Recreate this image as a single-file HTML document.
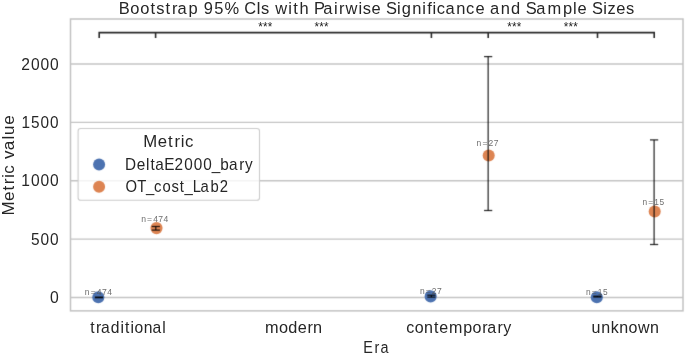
<!DOCTYPE html>
<html><head><meta charset="utf-8">
<style>
html,body{margin:0;padding:0;background:#fff;width:685px;height:354px;overflow:hidden}
svg{display:block;will-change:transform}
text{font-family:"Liberation Sans",sans-serif;fill:#262626;font-variant-ligatures:none;font-kerning:none}
.n{fill:#555;fill-opacity:0.85}
</style></head>
<body>
<svg width="685" height="354" viewBox="0 0 685 354">
<defs><filter id="bl" x="0" y="0" width="685" height="354" filterUnits="userSpaceOnUse" color-interpolation-filters="sRGB"><feConvolveMatrix order="3" kernelMatrix="0.01 0.08 0.01 0.08 0.64 0.08 0.01 0.08 0.01" divisor="1" edgeMode="none"/></filter></defs>
<rect x="0" y="0" width="685" height="354" fill="#fff"/>
<g filter="url(#bl)">
<!-- grid -->
<g stroke="#c4c4c4" stroke-width="1.3">
<line x1="70.5" y1="297.5" x2="683" y2="297.5"/>
<line x1="70.5" y1="239.1" x2="683" y2="239.1"/>
<line x1="70.5" y1="180.75" x2="683" y2="180.75"/>
<line x1="70.5" y1="122.4" x2="683" y2="122.4"/>
<line x1="70.5" y1="64.0" x2="683" y2="64.0"/>
</g>
<!-- frame -->
<rect x="70.5" y="19" width="612.5" height="291.85" fill="none" stroke="#c2c2c2" stroke-width="1.5"/>
</g>
<!-- title -->
<text style="font-size:17.15px" transform="scale(0.9610,1)" x="123.47 135.46 145.84 156.70 162.71 172.20 178.93 184.74 196.06 206.42 212.07 222.86 233.53 249.54 254.26 266.59 271.72 280.63 286.45 300.05 305.21 311.58 322.03 326.80 336.39 347.45 352.68 359.42 373.02 377.53 386.61 396.88 401.72 413.19 417.95 428.87 439.44 444.52 450.13 454.56 463.52 474.76 485.05 494.69 504.96 509.85 521.09 531.70 542.29 547.12 557.94 569.71 585.80 596.30 601.05 611.32 616.16 627.63 632.13 641.28 651.49" y="13.6">Bootstrap 95% CIs with Pairwise Significance and Sample Sizes</text>
<!-- y ticks -->
<text style="font-size:15.97px" transform="scale(0.9868,1)" x="50.57" y="303.1">0</text>
<text style="font-size:15.95px" transform="scale(0.9692,1)" x="31.88 41.76 51.57" y="244.7">500</text>
<text style="font-size:15.94px" transform="scale(0.9776,1)" x="21.83 31.63 41.36 51.09" y="186.35">1000</text>
<text style="font-size:15.93px" transform="scale(0.9644,1)" x="22.19 32.07 41.99 51.86" y="128.0">1500</text>
<text style="font-size:15.95px" transform="scale(0.9791,1)" x="21.66 31.58 41.29 51.01" y="69.6">2000</text>
<!-- x ticks -->
<text style="font-size:15.73px" transform="scale(0.9969,1)" x="90.42 96.33 101.40 111.23 120.80 125.34 130.85 134.89 144.26 153.01 162.88" y="333.0">traditional</text>
<text style="font-size:15.64px" transform="scale(1.0417,1)" x="254.41 267.92 276.78 285.86 295.21 300.48" y="333.0">modern</text>
<text style="font-size:15.61px" transform="scale(1.0283,1)" x="395.13 403.32 412.40 421.96 427.18 436.58 450.48 459.46 468.91 473.78 483.79 489.50" y="333.0">contemporary</text>
<text style="font-size:15.64px" transform="scale(1.0249,1)" x="577.23 586.54 595.89 604.23 613.29 622.40 634.33" y="333.0">unknown</text>
<!-- axis labels -->
<text style="font-size:17.13px" transform="scale(0.8406,1)" x="432.17 445.60 452.51" y="352.7">Era</text>
<text style="font-size:17.16px" transform="translate(14.0,0) rotate(-90) scale(0.9938,1)" x="-216.89 -202.35 -191.78 -185.30 -179.00 -174.80 -165.58 -160.02 -151.23 -140.44 -135.86 -125.55" y="0">Metric value</text>
<!-- brackets -->
<g filter="url(#bl)">
<g stroke="#2a2a2a" stroke-width="1.6" fill="none">
<path d="M99.2 38.1 V32.6 H654.2 V38.1 M155.6 32.6 V38.1 M431.4 32.6 V38.1 M488.2 32.6 V38.1 M597.5 32.6 V38.1"/>
</g>
</g>
<!-- stars -->
<text style="font-size:12.35px;fill:#1a1a1a" transform="scale(0.9486,1)" x="272.26 277.27 282.28" y="31.4">***</text>
<text style="font-size:12.35px;fill:#1a1a1a" transform="scale(0.9486,1)" x="331.61 336.62 341.64" y="31.4">***</text>
<text style="font-size:12.35px;fill:#1a1a1a" transform="scale(0.9486,1)" x="534.65 539.66 544.67" y="31.4">***</text>
<text style="font-size:12.35px;fill:#1a1a1a" transform="scale(0.9486,1)" x="594.37 599.38 604.40" y="31.4">***</text>
<g filter="url(#bl)">
<!-- points -->
<g>
<circle cx="98.3" cy="297.2" r="6.05" fill="#4c72b0"/>
<circle cx="156.5" cy="228.1" r="6.05" fill="#dd8452"/>
<circle cx="430.65" cy="296.4" r="6.05" fill="#4c72b0"/>
<circle cx="488.7" cy="155.5" r="6.05" fill="#dd8452"/>
<circle cx="596.8" cy="297.2" r="6.05" fill="#4c72b0"/>
<circle cx="654.7" cy="211.5" r="6.05" fill="#dd8452"/>
</g>
<!-- error bars -->
<g stroke="#000" stroke-opacity="0.8" stroke-width="1.3" fill="none">
<line x1="99.0" y1="297.1" x2="99.0" y2="297.7"/>
<line x1="94.90" y1="297.1" x2="103.10" y2="297.1"/>
<line x1="94.90" y1="297.7" x2="103.10" y2="297.7"/>
<line x1="155.8" y1="226.5" x2="155.8" y2="230.1"/>
<line x1="151.70" y1="226.5" x2="159.90" y2="226.5"/>
<line x1="151.70" y1="230.1" x2="159.90" y2="230.1"/>
<line x1="431.4" y1="295.2" x2="431.4" y2="297.1"/>
<line x1="427.30" y1="295.2" x2="435.50" y2="295.2"/>
<line x1="427.30" y1="297.1" x2="435.50" y2="297.1"/>
<line x1="488.15" y1="56.6" x2="488.15" y2="210.5"/>
<line x1="484.05" y1="56.6" x2="492.25" y2="56.6"/>
<line x1="484.05" y1="210.5" x2="492.25" y2="210.5"/>
<line x1="597.4" y1="296.2" x2="597.4" y2="297.0"/>
<line x1="593.30" y1="296.2" x2="601.50" y2="296.2"/>
<line x1="593.30" y1="297.0" x2="601.50" y2="297.0"/>
<line x1="654.1" y1="139.9" x2="654.1" y2="244.5"/>
<line x1="650.00" y1="139.9" x2="658.20" y2="139.9"/>
<line x1="650.00" y1="244.5" x2="658.20" y2="244.5"/>
</g>
</g>
<!-- n labels -->
<text class="n" style="font-size:8.44px" transform="scale(1.0179,1)" x="83.30 89.06 95.07 100.15 105.26" y="294.8">n=474</text>
<text class="n" style="font-size:8.44px" transform="scale(1.0179,1)" x="138.71 144.47 150.48 155.56 160.67" y="222.0">n=474</text>
<text class="n" style="font-size:8.39px" transform="scale(1.0117,1)" x="415.09 420.89 426.83 432.05" y="293.8">n=27</text>
<text class="n" style="font-size:8.39px" transform="scale(1.0117,1)" x="471.04 476.83 482.78 487.99" y="146.1">n=27</text>
<text class="n" style="font-size:8.40px" transform="scale(0.9963,1)" x="588.06 593.95 600.05 605.27" y="294.8">n=15</text>
<text class="n" style="font-size:8.40px" transform="scale(0.9963,1)" x="644.78 650.66 656.76 661.98" y="204.7">n=15</text>
<!-- legend -->
<g filter="url(#bl)">
<rect x="78.1" y="128.5" width="181.4" height="71.8" rx="2.6" ry="2.6" fill="#fff" fill-opacity="0.8" stroke="#cccccc" stroke-width="1.1"/>
<circle cx="99.1" cy="164.6" r="6" fill="#4c72b0"/>
<circle cx="99.1" cy="186.7" r="6" fill="#dd8452"/>
</g>
<text style="font-size:17.19px" transform="scale(0.9734,1)" x="147.19 161.98 172.73 179.36 185.76 190.10" y="147.0">Metric</text>
<text style="font-size:15.79px" transform="scale(0.9707,1)" x="128.85 140.83 150.31 154.99 160.00 169.24 179.72 189.72 199.52 209.31 218.10 226.91 235.84 246.36 252.46" y="169.8">DeltaE2000_bary</text>
<text style="font-size:15.83px" transform="scale(0.9376,1)" x="133.93 146.40 155.71 164.31 173.32 182.90 191.79 196.77 205.52 213.91 224.55 234.35" y="191.9">OT_cost_Lab2</text>
</svg>
</body></html>
